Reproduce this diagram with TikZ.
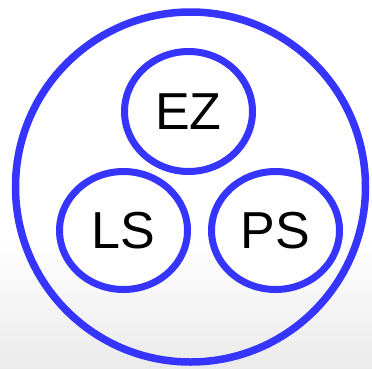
\documentclass[tikz,border=0pt]{standalone}
\usepackage{fontspec}
\setmainfont{Liberation Sans}
\usetikzlibrary{shapes.geometric}
\definecolor{ringblue}{HTML}{3535FF}
\tikzset{
  ring/.style={draw=ringblue, line width=7pt, ellipse, inner sep=0pt, fill=white,
    minimum width=128pt, minimum height=120pt, font=\fontsize{52}{52}\selectfont},
  bigring/.style={draw=ringblue, line width=7.5pt, circle, inner sep=0pt, minimum size=350pt}
}
\begin{document}
\begin{tikzpicture}[x=1pt,y=-1pt]
\useasboundingbox (0,0) rectangle (372,368);
\fill[white] (0,0) rectangle (372,368);
\shade[top color=white, bottom color=black!8] (0,240) rectangle (372,368);
\node[bigring] (outer) at (190.5,187) {};
\node[ring] (ez) at (188.5,111.5) {EZ};
\node[ring, minimum height=118pt] (ls) at (123.5,230.5) {LS};
\node[ring, minimum height=118pt] (ps) at (275.5,230.5) {PS};
\end{tikzpicture}
\end{document}
